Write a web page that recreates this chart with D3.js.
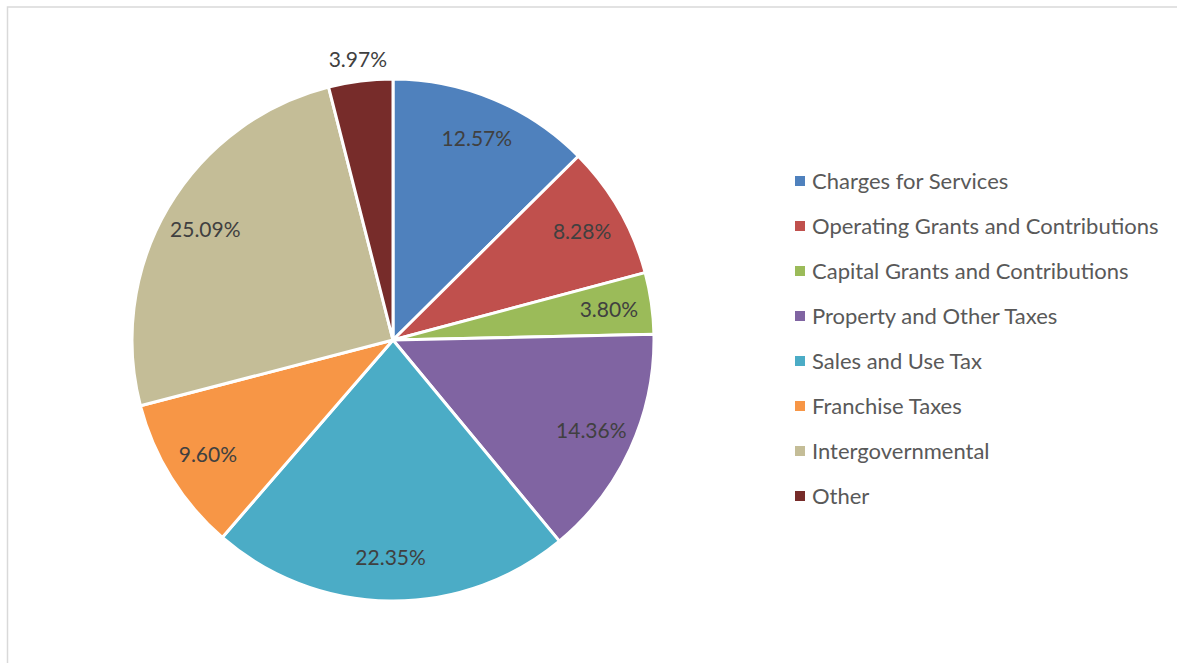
<!DOCTYPE html>
<html>
<head>
<meta charset="utf-8">
<script src="https://cdn.jsdelivr.net/npm/d3@7"></script>
<style>
  html, body { margin: 0; padding: 0; background: #fff; }
  svg { display: block; }
</style>
</head>
<body>
<svg id="chart" width="1177" height="663"></svg>
<script>
const categories = [
  "Charges for Services",
  "Operating Grants and Contributions",
  "Capital Grants and Contributions",
  "Property and Other Taxes",
  "Sales and Use Tax",
  "Franchise Taxes",
  "Intergovernmental",
  "Other"
];
const values = [12.57, 8.28, 3.80, 14.36, 22.35, 9.60, 25.09, 3.97];
const colors = ["#4F81BD", "#C0504D", "#9BBB59", "#8064A2", "#4BACC6", "#F79646", "#C4BD97", "#772C2A"];
const outsideLabels = ["Other"];

const svg = d3.select("#chart");
const W = 1177, H = 663;

// chart area border (top and left visible)
svg.append("rect")
  .attr("x", 7.5).attr("y", 7).attr("width", W + 10).attr("height", H + 10)
  .attr("fill", "#fff").attr("stroke", "#d9d9d9").attr("stroke-width", 1.5);

const cx = 393, cy = 340, R = 261;
const data = categories.map((c, i) => ({ name: c, value: values[i], color: colors[i] }));

const pie = d3.pie().value(d => d.value).sort(null);
const arcs = pie(data);
const arc = d3.arc().innerRadius(0).outerRadius(R);
const labelArcIn = d3.arc().innerRadius(218).outerRadius(218);
const labelArcOut = d3.arc().innerRadius(283).outerRadius(283);

const g = svg.append("g").attr("transform", `translate(${cx},${cy})`);
g.selectAll("path").data(arcs).join("path")
  .attr("d", arc)
  .attr("fill", d => d.data.color)
  .attr("stroke", "#fff")
  .attr("stroke-width", 3)
  .attr("stroke-linejoin", "round");

const fontFam = "Lato, 'Open Sans', sans-serif";
g.selectAll("text.lbl").data(arcs).join("text")
  .attr("class", "lbl")
  .attr("transform", d => {
    const a = outsideLabels.includes(d.data.name) ? labelArcOut : labelArcIn;
    const [x, y] = a.centroid(d);
    return `translate(${x},${y})`;
  })
  .attr("text-anchor", "middle")
  .attr("dy", "0.35em")
  .attr("font-family", fontFam)
  .attr("font-size", 21)
  .attr("fill", "#404040")
  .text(d => d.data.value.toFixed(2) + "%");

// legend
const legend = svg.append("g");
const ly = d3.scalePoint().domain(categories).range([181, 496]);
const items = legend.selectAll("g").data(data).join("g")
  .attr("transform", d => `translate(795,${ly(d.name)})`);
items.append("rect")
  .attr("x", 0).attr("y", -5).attr("width", 10).attr("height", 10)
  .attr("fill", d => d.color);
items.append("text")
  .attr("x", 17).attr("dy", "0.35em")
  .attr("font-family", fontFam)
  .attr("font-size", 22)
  .attr("fill", "#595959")
  .text(d => d.name);
</script>
</body>
</html>
